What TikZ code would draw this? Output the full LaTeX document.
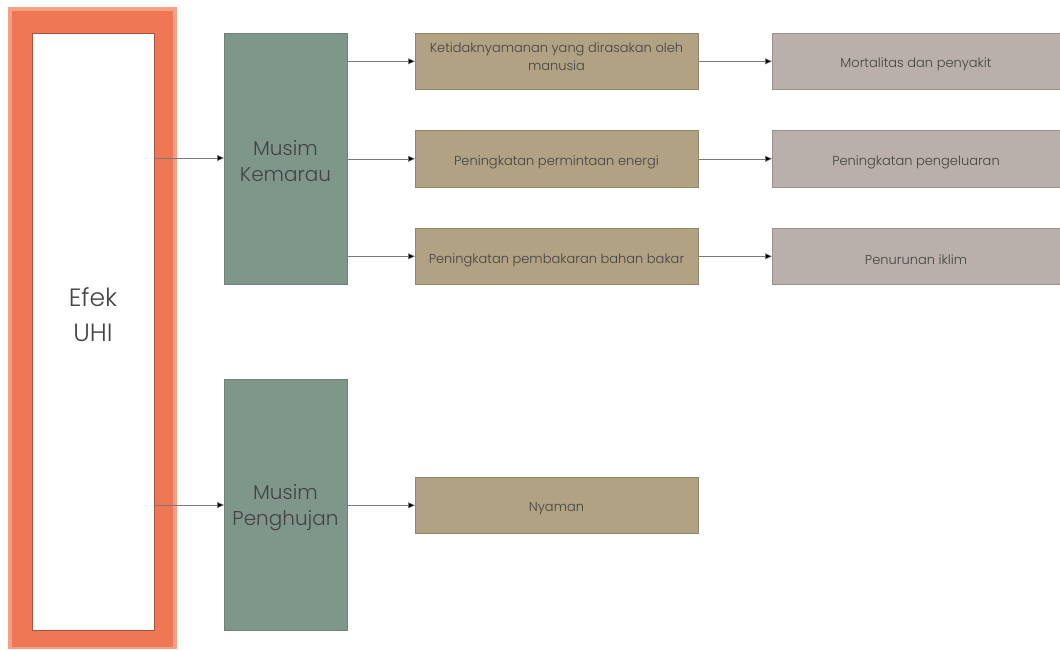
\documentclass[tikz,border=0pt]{standalone}
\usepackage{fontspec}
\setmainfont{Poppins}[UprightFont={* Light}]
\usetikzlibrary{arrows.meta}
\definecolor{orangeA}{HTML}{EE7856}
\definecolor{orangeL}{HTML}{F4A084}
\definecolor{greenB}{HTML}{7F968A}
\definecolor{greenE}{HTML}{6E8277}
\definecolor{tanB}{HTML}{B1A283}
\definecolor{tanE}{HTML}{928669}
\definecolor{greyB}{HTML}{B9AFAB}
\definecolor{greyE}{HTML}{9A918D}
\definecolor{txt}{HTML}{444442}
\definecolor{lineC}{HTML}{7A7A7A}
\begin{document}
\begin{tikzpicture}[x=1pt,y=-1pt,
  season/.style={fill=greenB,draw=greenE,line width=0.6pt,minimum width=123pt,minimum height=251pt,inner sep=0pt,anchor=north west},
  seasontext/.style={text=txt,align=center,font=\fontsize{20}{26}\selectfont},
  effect/.style={fill=tanB,draw=tanE,line width=0.6pt,minimum width=283pt,inner sep=0pt,anchor=north west},
  result/.style={fill=greyB,draw=greyE,line width=0.6pt,minimum width=290pt,inner sep=0pt,anchor=north west},
  smalltext/.style={text=txt,align=center,font=\fontsize{13}{18}\selectfont},
  conn/.style={draw=lineC,line width=0.5pt,-{Triangle[length=7pt,width=6pt,fill=black]}}]
\useasboundingbox (0,0) rectangle (1060,649);
\fill[white] (0,0) rectangle (1060,649);
% left frame
\fill[orangeL] (8,7) rectangle (177,649);
\fill[orangeA] (12,11) rectangle (173,647);
\node[fill=white,draw=orangeA!70!black,line width=0.3pt,minimum width=122pt,minimum height=597pt,inner sep=0pt,anchor=north west] (uhi) at (32,33) {};
\node[text=txt,align=center,font=\fontsize{25}{35}\selectfont] (uhit) at (93,315) {Efek\\UHI};
% season boxes
\node[season] (kem) at (224,33) {};
\node[seasontext] (kemt) at (285.5,161) {Musim\\Kemarau};
\node[season] (huj) at (224,379) {};
\node[seasontext] (hujt) at (285.5,508) {Musim\\Penghujan};
% effects
\node[effect,minimum height=56pt] (e1) at (415,33) {};
\node[smalltext] (e1t) at (556.5,57) {Ketidaknyamanan yang dirasakan oleh\\manusia};
\node[effect,minimum height=57pt] (e2) at (415,130) {};
\node[smalltext] (e2t) at (556.5,162) {Peningkatan permintaan energi};
\node[effect,minimum height=56pt] (e3) at (415,228) {};
\node[smalltext] (e3t) at (556.5,260) {Peningkatan pembakaran bahan bakar};
\node[effect,minimum height=56pt] (e4) at (415,477) {};
\node[smalltext] (e4t) at (556.5,509) {Nyaman};
% results
\node[result,minimum height=56pt] (r1) at (772,33) {};
\node[smalltext] (r1t) at (916,64) {Mortalitas dan penyakit};
\node[result,minimum height=57pt] (r2) at (772,130) {};
\node[smalltext] (r2t) at (916,162) {Peningkatan pengeluaran};
\node[result,minimum height=56pt] (r3) at (772,228) {};
\node[smalltext] (r3t) at (916,260) {Penurunan iklim};
% connectors
\draw[conn] (uhi.east |- 0,158) -- (kem.west |- 0,158);
\draw[conn] (uhi.east |- 0,505) -- (huj.west |- 0,505);
\draw[conn] (kem.east |- e1.west) -- (e1.west);
\draw[conn] (kem.east |- e2.west) -- (e2.west);
\draw[conn] (kem.east |- e3.west) -- (e3.west);
\draw[conn] (huj.east |- e4.west) -- (e4.west);
\draw[conn] (e1.east) -- (r1.west |- e1.east);
\draw[conn] (e2.east) -- (r2.west |- e2.east);
\draw[conn] (e3.east) -- (r3.west |- e3.east);
\end{tikzpicture}
\end{document}
